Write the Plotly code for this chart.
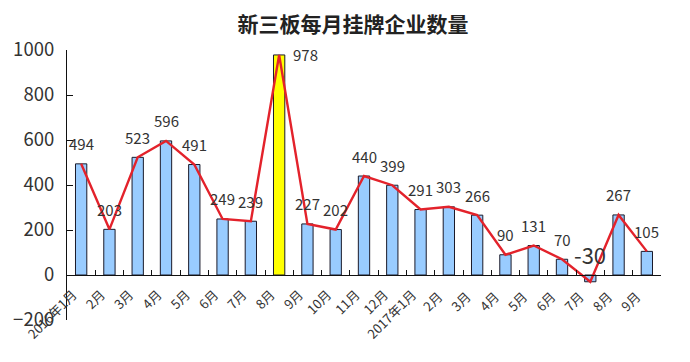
import plotly.graph_objects as go

categories = ["2016年1月", "2月", "3月", "4月", "5月", "6月", "7月", "8月", "9月", "10月", "11月", "12月",
              "2017年1月", "2月 ", "3月 ", "4月 ", "5月 ", "6月 ", "7月 ", "8月 ", "9月 "]
values = [494, 203, 523, 596, 491, 249, 239, 978, 227, 202, 440, 399,
          291, 303, 266, 90, 131, 70, -30, 267, 105]
y_ticks = [-200, 0, 200, 400, 600, 800, 1000]
title = "新三板每月挂牌企业数量"

FONT = "Noto Sans CJK SC, Noto Sans, sans-serif"
bar_colors = ["#FFFF00" if v == max(values) else "#99CCFF" for v in values]

fig = go.Figure()
fig.add_trace(go.Bar(
    x=categories, y=values, width=0.4,
    marker=dict(color=bar_colors, line=dict(color="#1a1a2a", width=1)),
    showlegend=False, hoverinfo="skip",
))
fig.add_trace(go.Scatter(
    x=categories, y=values, mode="lines",
    line=dict(color="#E3222B", width=2.4),
    showlegend=False, hoverinfo="skip",
))

for c, v in zip(categories, values):
    if v == max(values):
        fig.add_annotation(x=c, y=v, text=str(v), showarrow=False, xanchor="left",
                           yanchor="middle", xshift=12, font=dict(size=15, color="#333", family=FONT))
    elif v < 0:
        fig.add_annotation(x=c, y=v, text=str(v), showarrow=False, xanchor="center",
                           yanchor="middle", yshift=28, font=dict(size=22, color="#333", family=FONT))
    else:
        fig.add_annotation(x=c, y=v, text=str(v), showarrow=False, xanchor="center",
                           yanchor="middle", yshift=20, font=dict(size=15, color="#333", family=FONT))

y0, y1 = y_ticks[0], y_ticks[-1]
fig.update_layout(
    width=690, height=362,
    margin=dict(l=59, r=37, t=42, b=50),
    paper_bgcolor="white", plot_bgcolor="white",
    title=dict(text="<b>" + title + "</b>", x=0.5, xanchor="center", y=0.953, yanchor="middle",
               font=dict(size=21, color="#222", family=FONT)),
    font=dict(family=FONT, color="#333"),
    bargap=0.6,
)
fig.update_xaxes(
    type="category", range=[-0.5, len(categories) - 0.5],
    anchor="free", position=(0 - y0) / (y1 - y0),
    showline=True, linecolor="#111", linewidth=1.2,
    ticks="inside", ticklen=5, tickcolor="#111", tickson="boundaries",
    tickangle=-45, tickfont=dict(size=13, color="#333", family=FONT),
    ticklabelstandoff=6, ticklabelshift=-8,
    showgrid=False, zeroline=False, automargin=False,
)
fig.update_yaxes(
    range=[y0, y1], tickvals=y_ticks,
    showline=True, linecolor="#111", linewidth=1.2,
    ticks="inside", ticklen=6, tickcolor="#111",
    tickfont=dict(size=18.5, color="#333", family=FONT), ticklabelstandoff=8,
    showgrid=False, zeroline=False, automargin=False,
)

fig.write_html("out.html")
